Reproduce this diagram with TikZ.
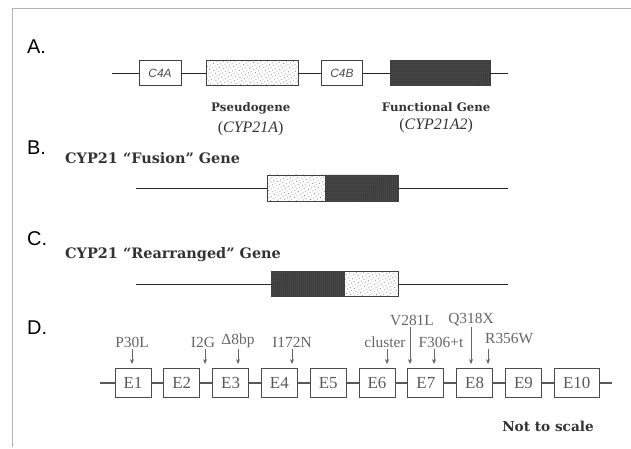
\documentclass[tikz,border=0pt]{standalone}
\usepackage{fontspec}
\setmainfont{Liberation Serif}
\setsansfont{Liberation Sans}
\newfontfamily\slabfont{DejaVu Serif}
\usepackage{tikz}
\usetikzlibrary{arrows.meta}
\usetikzlibrary{patterns.meta, positioning}

\tikzset{
    panel/.style={font=\sffamily\fontsize{20}{22}\selectfont, anchor=west, inner sep=0pt},
    title/.style={font=\slabfont\bfseries\fontsize{14.5}{16}\selectfont, text=black!80, anchor=west, inner sep=0pt},
    genename/.style={font=\slabfont\bfseries\fontsize{11.8}{14}\selectfont, text=black!80, inner sep=0pt},
    genecode/.style={font=\fontsize{16}{18}\selectfont, text=black!80, inner sep=0pt},
    geneline/.style={black!85, line width=0.9bp},
    cbox/.style={draw=black!75, line width=0.7bp, minimum width=42bp, minimum height=25bp, inner sep=0pt,
        font=\sffamily\itshape\fontsize{12}{14}\selectfont, text=black!70},
    pseudobox/.style={draw=black!75, line width=0.7bp, minimum height=25bp, inner sep=0pt,
        pattern={Dots[distance=3.2bp, radius=0.5bp, angle=30]}, pattern color=black!55},
    funcbox/.style={draw=black!75, line width=0.7bp, minimum height=25bp, inner sep=0pt,
        preaction={fill=black!78}, pattern={Dots[distance=2bp, radius=0.5bp]}, pattern color=black!50},
    exon/.style={draw=black!70, line width=0.8bp, minimum width=36bp, minimum height=29bp, inner sep=0pt,
        font=\fontsize{17}{19}\selectfont, text=black!65},
    exonline/.style={black!65, line width=1.1bp},
    mutlab/.style={font=\fontsize{15.5}{17}\selectfont, text=black!60, inner sep=1bp},
    mut/.style={black!60, line width=0.6bp, -{Stealth[length=5bp, width=4bp]}, shorten >=4bp}
}

\begin{document}
\begin{tikzpicture}[x=1bp, y=-1bp]
    \useasboundingbox (0,0) rectangle (631,449);
    \draw[gray!60, line width=0.8bp] (12,447) -- (12,8) -- (631,8);

    \node[panel] (labA) at (27,47) {A.};
    \coordinate (aL) at (112,73);
    \coordinate (aR) at (508,73);
    \node[cbox] (c4a) at (160,73) {C4A};
    \node[pseudobox, minimum width=92bp, right=25bp of c4a] (pseudo) {};
    \node[cbox, minimum width=41bp, right=22bp of pseudo] (c4b) {C4B};
    \node[funcbox, minimum width=100bp, right=27bp of c4b] (func) {};
    \draw[geneline] (aL) -- (c4a) -- (pseudo) -- (c4b) -- (func) -- (aR);
    \node[genename, below=17bp of pseudo, xshift=-2bp] (pname) {Pseudogene};
    \node[genecode, below=6bp of pname] (pcode) {(\textit{CYP21A})};
    \node[genename, below=17bp of func, xshift=-4bp] (fname) {Functional Gene};
    \node[genecode, below=6bp of fname] (fcode) {(\textit{CYP21A2})};

    \node[panel] (labB) at (27,148) {B.};
    \node[title] (titB) at (65,158) {CYP21 “Fusion” Gene};
    \coordinate (bL) at (136,188);
    \coordinate (bR) at (508,188);
    \node[pseudobox, minimum width=58bp, minimum height=26bp] (fusA) at (296,188) {};
    \node[funcbox, minimum width=73bp, minimum height=26bp, right=0bp of fusA] (fusB) {};
    \draw[geneline] (bL) -- (fusA);
    \draw[geneline] (fusB) -- (bR);

    \node[panel] (labC) at (27,239) {C.};
    \node[title] (titC) at (65,255) {CYP21 “Rearranged” Gene};
    \coordinate (cL) at (136,284);
    \coordinate (cR) at (508,284);
    \node[funcbox, minimum width=73bp] (reA) at (307.5,284) {};
    \node[pseudobox, minimum width=54bp, right=0bp of reA] (reB) {};
    \draw[geneline] (cL) -- (reA);
    \draw[geneline] (reB) -- (cR);

    \node[panel] (labD) at (27,328) {D.};
    \coordinate (dL) at (100,383);
    \coordinate (dR) at (612,383);
    \node[exon] (e1) at (133,383) {E1};
    \node[exon, right=12bp of e1] (e2) {E2};
    \node[exon, right=12bp of e2] (e3) {E3};
    \node[exon, right=12bp of e3] (e4) {E4};
    \node[exon, right=12bp of e4] (e5) {E5};
    \node[exon, right=12bp of e5] (e6) {E6};
    \node[exon, right=12bp of e6] (e7) {E7};
    \node[exon, right=12bp of e7] (e8) {E8};
    \node[exon, right=12bp of e8] (e9) {E9};
    \node[exon, minimum width=45bp, right=12bp of e9] (e10) {E10};
    \draw[exonline] (dL) -- (e1) -- (e2) -- (e3) -- (e4) -- (e5) -- (e6) -- (e7) -- (e8) -- (e9) -- (e10) -- (dR);

    \coordinate (m1) at (132,349);
    \coordinate (m2) at (205,349);
    \coordinate (m3) at (238,349);
    \coordinate (m4) at (292,349);
    \coordinate (m5) at (387,349);
    \coordinate (m6) at (410,327);
    \coordinate (m7) at (434,349);
    \coordinate (m8) at (471,327);
    \coordinate (m9) at (488,349);
    \node[mutlab, above=0bp of m1] (p30l) {P30L};
    \node[mutlab, above=0bp of m2, xshift=-2bp] (i2g) {I2G};
    \node[mutlab, above=0bp of m3] (del8) {Δ8bp};
    \node[mutlab, above=0bp of m4] (i172n) {I172N};
    \node[mutlab, above=0bp of m5, xshift=-2bp] (clus) {cluster};
    \node[mutlab, above=0bp of m6, xshift=2bp] (v281l) {V281L};
    \node[mutlab, above=0bp of m7, xshift=7bp] (f306) {F306+t};
    \node[mutlab, above=0bp of m8] (q318x) {Q318X};
    \node[mutlab, above right=4bp and -4bp of m9] (r356w) {R356W};
    \draw[mut] (m1) -- (m1 |- e1.north);
    \draw[mut] (m2) -- (m2 |- e3.north);
    \draw[mut] (m3) -- (m3 |- e3.north);
    \draw[mut] (m4) -- (m4 |- e4.north);
    \draw[mut] (m5) -- (m5 |- e6.north);
    \draw[mut] (m6) -- (m6 |- e7.north);
    \draw[mut] (m7) -- (m7 |- e7.north);
    \draw[mut] (m8) -- (m8 |- e8.north);
    \draw[mut] (m9) -- (m9 |- e8.north);

    \node[title, anchor=center, font=\slabfont\bfseries\fontsize{13.7}{16}\selectfont] (nts) at (548,426) {Not to scale};
\end{tikzpicture}
\end{document}
